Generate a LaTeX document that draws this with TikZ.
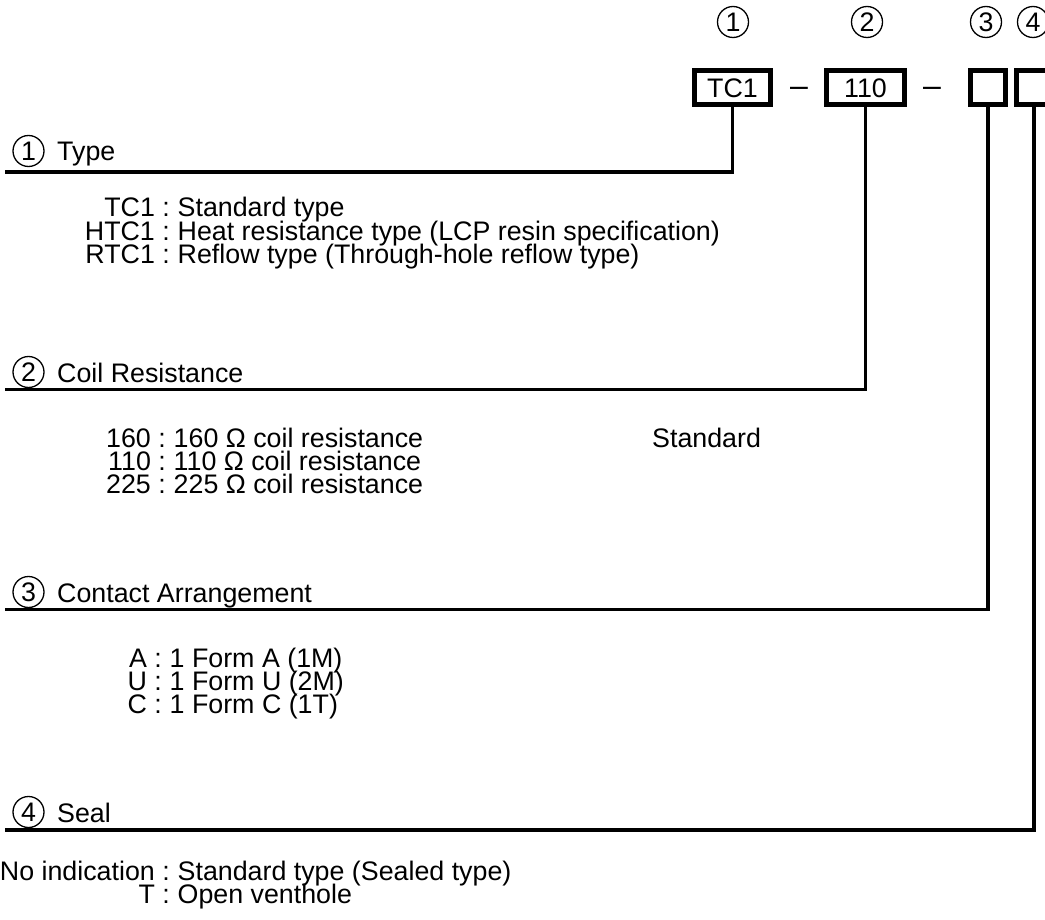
\documentclass[tikz,border=0pt]{standalone}
\usepackage{fontspec}
\setmainfont{Liberation Sans}

\begin{document}
\begin{tikzpicture}[x=1pt, y=-1pt,
		every node/.style={font=\fontsize{26.8}{28}\selectfont, inner sep=0pt},
		codebox/.style={draw, line width=5pt, minimum height=34pt},
		numcirc/.style={draw, circle, line width=1.3pt, minimum size=31pt},
		lead/.style={line width=3.8pt},
		key/.style={anchor=base east, text height=19pt, text depth=2pt},
		desc/.style={anchor=base west, text height=19pt, text depth=2pt},
		dashsym/.style={anchor=base, font=\fontsize{32}{32}\selectfont}]
				\useasboundingbox (0,0) rectangle (1045,920);

				% ordering code
				\node[codebox, minimum width=76.6pt] (tc1) at (732.5,87.8) {TC1};
				\node[dashsym] (dash1) at (799,97) {–};
				\node[codebox, minimum width=77.4pt] (coil) at (865.5,87.8) {110};
				\node[dashsym] (dash2) at (932,97) {–};
				\node[codebox, minimum width=35pt] (cont) at (988.3,87.8) {};
				\node[codebox, minimum width=35pt] (seal) at (1034.3,87.8) {};

				\node[numcirc] (n1) at (733,22) {1};
				\node[numcirc] (n2) at (867,22) {2};
				\node[numcirc] (n3) at (986,22) {3};
				\node[numcirc] (n4) at (1033,22) {4};

				% 1 Type
				\node[numcirc] (s1) at (28.5,151) {1};
				\node[desc] (h1) at (57,161) {Type};
				\coordinate (e1) at (5,171.7);
				\draw[lead] (tc1.south) |- (e1);

				\node[key] (k11) at (170,217) {TC1 :};
				\node[desc] (t11) at (170+7.5,217) {Standard type};
				\node[key] (k12) at (170,217+23.5) {HTC1 :};
				\node[desc] (t12) at (170+7.5,217+23.5) {Heat resistance type (LCP resin specification)};
				\node[key] (k13) at (170,217+47) {RTC1 :};
				\node[desc] (t13) at (170+7.5,217+47) {Reflow type (Through-hole reflow type)};

				% 2 Coil Resistance
				\node[numcirc] (s2) at (28.5,372) {2};
				\node[desc] (h2) at (57,382) {Coil Resistance};
				\coordinate (e2) at (5,389.5);
				\draw[lead] (coil.south) |- (e2);

				\node[key] (k21) at (166,447) {160 :};
				\node[desc] (t21) at (166+7.5,447) {160 Ω coil resistance};
				\node[desc] (std) at (652,447) {Standard};
				\node[key] (k22) at (166,447+23.3) {110 :};
				\node[desc] (t22) at (166+7.5,447+23.3) {110 Ω coil resistance};
				\node[key] (k23) at (166,447+46.6) {225 :};
				\node[desc] (t23) at (166+7.5,447+46.6) {225 Ω coil resistance};

				% 3 Contact Arrangement
				\node[numcirc] (s3) at (28.5,592) {3};
				\node[desc] (h3) at (57,602) {Contact Arrangement};
				\coordinate (e3) at (5,609.5);
				\draw[lead] (cont.south) |- (e3);

				\node[key] (k31) at (162,667) {A :};
				\node[desc] (t31) at (162+7.5,667) {1 Form A (1M)};
				\node[key] (k32) at (162,667+23.3) {U :};
				\node[desc] (t32) at (162+7.5,667+23.3) {1 Form U (2M)};
				\node[key] (k33) at (162,667+46.6) {C :};
				\node[desc] (t33) at (162+7.5,667+46.6) {1 Form C (1T)};

				% 4 Seal
				\node[numcirc] (s4) at (28.5,812) {4};
				\node[desc] (h4) at (57,822) {Seal};
				\coordinate (e4) at (5,830);
				\draw[lead] (seal.south) |- (e4);

				\node[key] (k41) at (170,880) {No indication :};
				\node[desc] (t41) at (170+7.5,880) {Standard type (Sealed type)};
				\node[key] (k42) at (170,880+23.3) {T :};
				\node[desc] (t42) at (170+7.5,880+23.3) {Open venthole};

			\end{tikzpicture}
\end{document}
